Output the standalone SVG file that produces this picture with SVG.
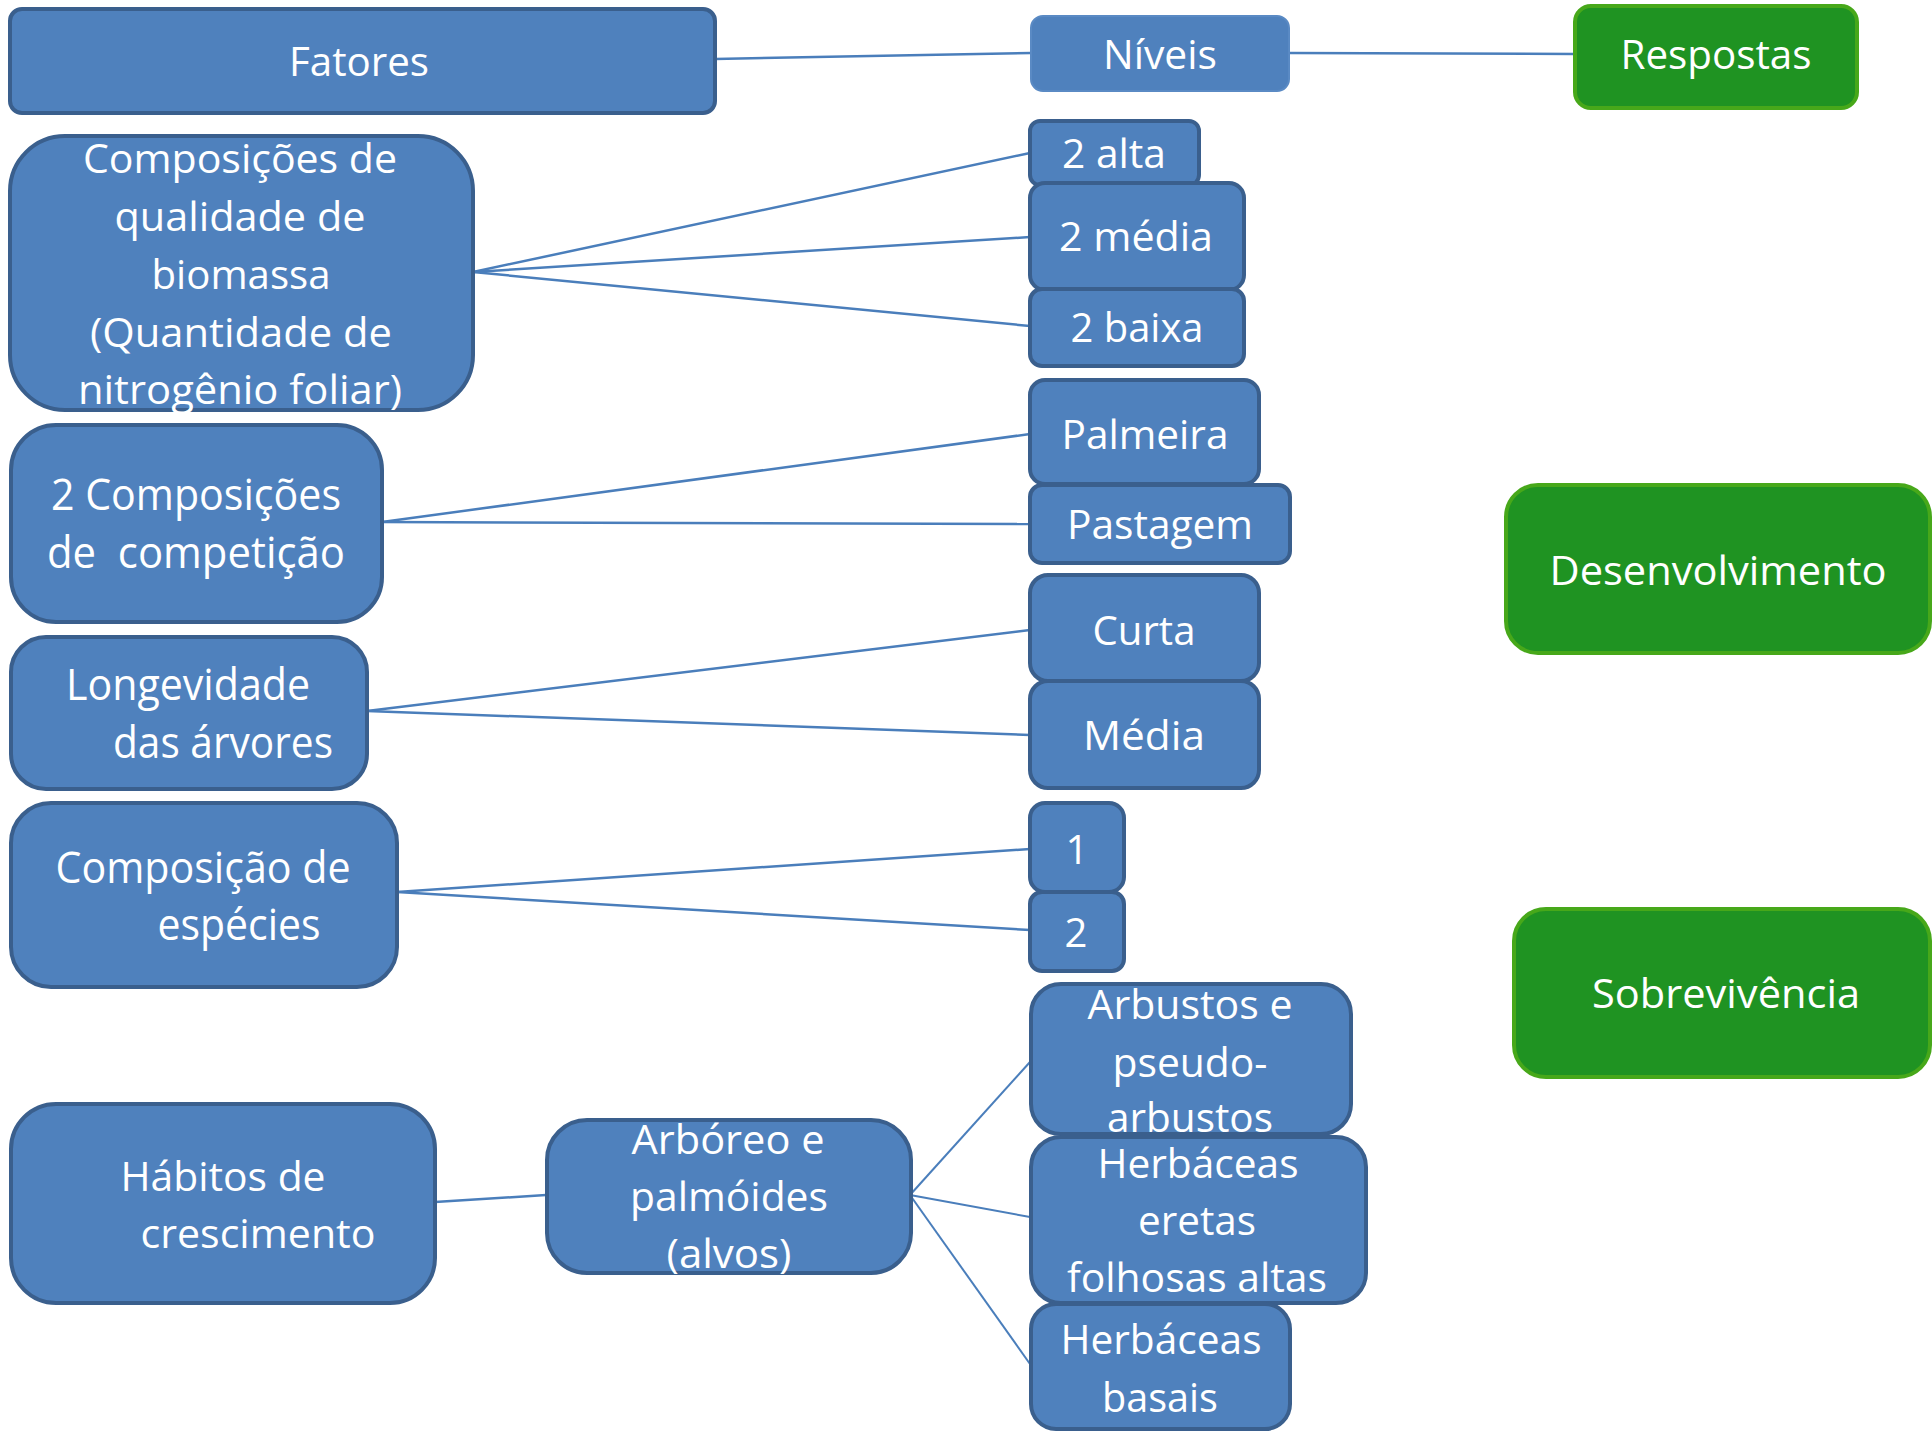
<svg xmlns="http://www.w3.org/2000/svg" width="1932" height="1432" viewBox="0 0 1932 1432">
<style>
.b{fill:#4f81bd;stroke:#3a5f8d;stroke-width:4}
.n{fill:#4f81bd;stroke:#5a8ac4;stroke-width:2}
.g{fill:#1f9322;stroke:#47a81a;stroke-width:4}
text{fill:#ffffff;font-family:"Open Sans","Liberation Sans",sans-serif;font-size:40px;text-anchor:middle}
.w{font-size:44px}
.c line{stroke:#4a7ebb;stroke-width:2.5}
.c .t{stroke-width:2}
</style>
<rect width="1932" height="1432" fill="#ffffff"/>
<g class="c" id="connectors">
<line x1="715" y1="59" x2="1031" y2="53"/>
<line x1="1289" y1="53" x2="1575" y2="54"/>
<line x1="473" y1="272" x2="1030" y2="153"/>
<line x1="473" y1="272" x2="1030" y2="237"/>
<line x1="473" y1="272" x2="1030" y2="326"/>
<line x1="382" y1="522" x2="1030" y2="434"/>
<line x1="382" y1="522" x2="1030" y2="524"/>
<line x1="367" y1="711" x2="1030" y2="630"/>
<line x1="367" y1="711" x2="1030" y2="735"/>
<line x1="397" y1="892" x2="1030" y2="849"/>
<line x1="397" y1="892" x2="1030" y2="930"/>
<line x1="435" y1="1202" x2="546" y2="1195"/>
<line class="t" x1="910" y1="1195" x2="1030" y2="1062"/>
<line class="t" x1="910" y1="1195" x2="1030" y2="1217"/>
<line class="t" x1="910" y1="1195" x2="1030" y2="1364"/>
</g>
<g id="fatores"><rect class="b" x="10" y="9" width="705" height="104" rx="12"/><text x="359" y="76" textLength="140" lengthAdjust="spacingAndGlyphs">Fatores</text></g>
<g id="niveis"><rect class="n" x="1031" y="16" width="258" height="75" rx="12"/><text x="1160" y="69" textLength="114" lengthAdjust="spacingAndGlyphs">Níveis</text></g>
<g id="respostas"><rect class="g" x="1575" y="6" width="282" height="102" rx="16"/><text x="1716" y="69" textLength="191" lengthAdjust="spacingAndGlyphs">Respostas</text></g>
<g id="composicoes-qualidade"><rect class="b" x="10" y="136" width="463" height="274" rx="55"/>
<text x="240" y="173" textLength="314" lengthAdjust="spacingAndGlyphs">Composições de</text>
<text x="240" y="231" textLength="251" lengthAdjust="spacingAndGlyphs">qualidade de</text>
<text x="241" y="289" textLength="179" lengthAdjust="spacingAndGlyphs">biomassa</text>
<text x="241" y="347" textLength="302" lengthAdjust="spacingAndGlyphs">(Quantidade de</text>
<text x="240" y="404" textLength="324" lengthAdjust="spacingAndGlyphs">nitrogênio foliar)</text></g>
<g id="alta"><rect class="b" x="1030" y="121" width="169" height="64" rx="10"/><text x="1114" y="168" textLength="104" lengthAdjust="spacingAndGlyphs">2 alta</text></g>
<g id="media2"><rect class="b" x="1030" y="183" width="214" height="107" rx="15"/><text x="1136" y="251" textLength="154" lengthAdjust="spacingAndGlyphs">2 média</text></g>
<g id="baixa"><rect class="b" x="1030" y="289" width="214" height="77" rx="12"/><text x="1137" y="342" textLength="133" lengthAdjust="spacingAndGlyphs">2 baixa</text></g>
<g id="composicoes-competicao"><rect class="b" x="11" y="425" width="371" height="197" rx="45"/>
<text class="w" x="196" y="510" textLength="290" lengthAdjust="spacingAndGlyphs">2 Composições</text>
<text class="w" x="196" y="568" textLength="298" lengthAdjust="spacingAndGlyphs" xml:space="preserve">de  competição</text></g>
<g id="palmeira"><rect class="b" x="1030" y="380" width="229" height="104" rx="15"/><text x="1145" y="449" textLength="167" lengthAdjust="spacingAndGlyphs">Palmeira</text></g>
<g id="pastagem"><rect class="b" x="1030" y="485" width="260" height="78" rx="12"/><text x="1160" y="539" textLength="186" lengthAdjust="spacingAndGlyphs">Pastagem</text></g>
<g id="longevidade"><rect class="b" x="11" y="637" width="356" height="152" rx="35"/>
<text class="w" x="188" y="700" textLength="244" lengthAdjust="spacingAndGlyphs">Longevidade</text>
<text class="w" x="223" y="758" textLength="220" lengthAdjust="spacingAndGlyphs">das árvores</text></g>
<g id="curta"><rect class="b" x="1030" y="575" width="229" height="106" rx="18"/><text x="1144" y="645" textLength="103" lengthAdjust="spacingAndGlyphs">Curta</text></g>
<g id="media"><rect class="b" x="1030" y="681" width="229" height="107" rx="18"/><text x="1144" y="750" textLength="122" lengthAdjust="spacingAndGlyphs">Média</text></g>
<g id="composicao-especies"><rect class="b" x="11" y="803" width="386" height="184" rx="40"/>
<text class="w" x="203" y="883" textLength="295" lengthAdjust="spacingAndGlyphs">Composição de</text>
<text class="w" x="239" y="940" textLength="163" lengthAdjust="spacingAndGlyphs">espécies</text></g>
<g id="um"><rect class="b" x="1030" y="803" width="94" height="89" rx="15"/><text x="1077" y="864">1</text></g>
<g id="dois"><rect class="b" x="1030" y="892" width="94" height="79" rx="12"/><text x="1076" y="947">2</text></g>
<g id="desenvolvimento"><rect class="g" x="1506" y="485" width="424" height="168" rx="32"/><text x="1718" y="585" textLength="337" lengthAdjust="spacingAndGlyphs">Desenvolvimento</text></g>
<g id="sobrevivencia"><rect class="g" x="1514" y="909" width="416" height="168" rx="32"/><text x="1726" y="1008" textLength="268" lengthAdjust="spacingAndGlyphs">Sobrevivência</text></g>
<g id="habitos"><rect class="b" x="11" y="1104" width="424" height="199" rx="45"/>
<text x="223" y="1191" textLength="205" lengthAdjust="spacingAndGlyphs">Hábitos de</text>
<text x="258" y="1248" textLength="235" lengthAdjust="spacingAndGlyphs">crescimento</text></g>
<g id="arboreo"><rect class="b" x="547" y="1120" width="364" height="153" rx="40"/>
<text x="728" y="1154" textLength="193" lengthAdjust="spacingAndGlyphs">Arbóreo e</text>
<text x="729" y="1211" textLength="198" lengthAdjust="spacingAndGlyphs">palmóides</text>
<text x="729" y="1268" textLength="125" lengthAdjust="spacingAndGlyphs">(alvos)</text></g>
<g id="arbustos"><rect class="b" x="1031" y="984" width="320" height="150" rx="30"/>
<text x="1190" y="1019" textLength="205" lengthAdjust="spacingAndGlyphs">Arbustos e</text>
<text x="1190" y="1077" textLength="155" lengthAdjust="spacingAndGlyphs">pseudo-</text>
<text x="1190" y="1132" textLength="166" lengthAdjust="spacingAndGlyphs">arbustos</text></g>
<g id="herbaceas-eretas"><rect class="b" x="1031" y="1137" width="335" height="166" rx="30"/>
<text x="1198" y="1178" textLength="201" lengthAdjust="spacingAndGlyphs">Herbáceas</text>
<text x="1197" y="1235" textLength="118" lengthAdjust="spacingAndGlyphs">eretas</text>
<text x="1197" y="1292" textLength="260" lengthAdjust="spacingAndGlyphs">folhosas altas</text></g>
<g id="herbaceas-basais"><rect class="b" x="1031" y="1304" width="259" height="125" rx="25"/>
<text x="1161" y="1354" textLength="201" lengthAdjust="spacingAndGlyphs">Herbáceas</text>
<text x="1160" y="1412" textLength="116" lengthAdjust="spacingAndGlyphs">basais</text></g>
</svg>
